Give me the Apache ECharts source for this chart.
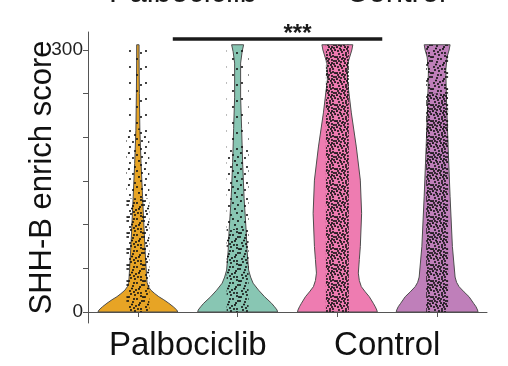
<!DOCTYPE html>
<html>
<head>
<meta charset="utf-8">
<script src="https://cdn.jsdelivr.net/npm/echarts@6/dist/echarts.min.js"></script>
<style>html,body{margin:0;padding:0;background:#fff}#c{width:508px;height:366px}</style>
</head>
<body>
<div id="c"></div>
<script>
// ---- data ----
const groupLabels = ['Palbociclib', 'Control'];
const groupLabelPos = [1.5, 3.5];
const violinPos = [1, 2, 3, 4];
const violinColors = ['#E7A425', '#88C6B3', '#EE7CB1', '#BF7FBA'];
const yTicks = [0, 50, 100, 150, 200, 250, 300];
const yLabels = [0, 300];
// violin profiles: [score, half width (category units * 100)]
const profileOrange = [[0,40],[2.3,39],[6,35.5],[10,31],[14,26],[17.5,21],[21,17],[25,13],[29,10.5],[34,9.2],[40,8.8],[75,7],[132,4.7],[170,3.2],[208,2],[250,1.5],[290,1.2],[306,1.2]];
const profileTeal = [[0,40],[2.3,39.5],[6,37],[10,34],[17.5,27],[25,21],[33,15.5],[40,13],[48,11],[70,9.5],[94,8.5],[130,6.5],[171,5],[210,4],[246,3],[285,3],[298,4.5],[306,6]];
const profilePink = [[0,40],[2.3,39.5],[6,38],[10,36],[17.5,32],[23,28],[29,24],[36,22],[44.5,21],[60,22],[75,23],[113,24.3],[151,23],[189,19],[228,14],[266,10],[285,10.5],[300,14.5],[306,15.5]];
const profilePurple = [[0,41],[2.3,40.5],[6,39],[10,36.5],[17.5,32],[23,27],[29,22],[34,19.5],[40,18],[75,15.3],[132,13],[189,11],[246,9.3],[277,8.7],[292,10],[300,12],[306,13]];
const profiles = [profileOrange, profileTeal, profilePink, profilePurple];
// jittered cell points: band half width and density segments [from, to, level]
const pointBandHalf = [11.5, 11, 11.5, 11];
const pointDensity = [
  [[0,130,3],[130,210,2],[210,306,1]],
  [[0,95,3],[95,190,2],[190,306,1]],
  [[0,306,4]],
  [[0,250,4],[250,306,3]]
];
// significance annotation
const sigFrom = 1.35, sigTo = 3.45, sigY = 312.6, sigText = '***', sigTextX = 2.6;

// ---- dot textures (style) ----
const dotSpots = [[2,3],[9,11],[13,5],[5,14],[11,1],[7,7],[1,9],[14,13],[4,0.5],[10,5],[15,9],[6,11],[3,6],[12,15],[8,2],[0,13],[13,8],[6,4],[9,15],[2,11],[11,9],[15,2],[4,9],[8,13],[12,12],[1,15],[14,0],[7,10],[10,7],[3,13],[5,2],[12,3]];
const levelCount = {1:3, 2:8, 3:18, 4:32};
function makeTile(n){
  const cv = document.createElement('canvas');
  cv.width = 16; cv.height = 16;
  const ctx = cv.getContext('2d');
  ctx.fillStyle = '#141414';
  for (let i = 0; i < n; i++) {
    for (const dx of [-16, 0, 16]) for (const dy of [-16, 0, 16]) {
      ctx.beginPath();
      ctx.arc(dotSpots[i][0] + dx, dotSpots[i][1] + dy, 1.05, 0, Math.PI*2);
      ctx.fill();
    }
  }
  return cv;
}
const tiles = {};
[1,2,3,4].forEach(l => tiles[l] = makeTile(levelCount[l]));

function violinRender(gi){
  return function(params, api){
    const c = violinPos[gi];
    const prof = profiles[gi];
    const left = prof.map(p => api.coord([c - p[1]/100, p[0]]));
    const right = prof.slice().reverse().map(p => api.coord([c + p[1]/100, p[0]]));
    const children = [{
      type: 'polygon',
      shape: { points: left.concat(right) },
      style: { fill: violinColors[gi], stroke: '#4d4d4d', lineWidth: 1 }
    }];
    const bw = pointBandHalf[gi]/100;
    pointDensity[gi].forEach(seg => {
      const p1 = api.coord([c - bw, seg[0]]);
      const p2 = api.coord([c + bw, seg[1]]);
      children.push({
        type: 'rect',
        shape: { x: p1[0], y: p2[1], width: p2[0]-p1[0], height: p1[1]-p2[1] },
        style: { fill: { image: tiles[seg[2]], repeat: 'repeat' } },
        silent: true
      });
    });
    return { type: 'group', children };
  };
}

const series = violinPos.map((pos, gi) => ({
  type: 'custom',
  renderItem: violinRender(gi),
  data: [[pos, 0]],
  encode: { x: 0, y: 1 },
  clip: false,
  silent: true
}));
series.push({
  type: 'custom',
  data: [[sigFrom, sigY]],
  encode: { x: 0, y: 1 },
  clip: false,
  silent: true,
  renderItem: function(params, api){
    const a = api.coord([sigFrom, sigY]);
    const b = api.coord([sigTo, sigY]);
    const t = api.coord([sigTextX, sigY]);
    return { type: 'group', children: [
      { type: 'line', shape: { x1: a[0], y1: a[1], x2: b[0], y2: b[1] }, style: { stroke: '#1a1a1a', lineWidth: 3.5 } },
      { type: 'text', x: t[0], y: t[1]-5, style: { text: sigText, fontSize: 24, fontWeight: 'bold', fill: '#1a1a1a', align: 'center', verticalAlign: 'middle', fontFamily: 'Liberation Sans' } }
    ]};
  }
});

const chart = echarts.init(document.getElementById('c'), null, { renderer: 'canvas' });
chart.setOption({
  animation: false,
  backgroundColor: '#fff',
  textStyle: { fontFamily: 'Liberation Sans' },
  grid: { left: 88, right: 21, top: 32, bottom: 43 },
  graphic: [
    { type: 'text', x: 183, y: -6.5, style: { text: groupLabels[0], fontSize: 31, fill: '#1a1a1a', align: 'center', verticalAlign: 'middle', fontFamily: 'Liberation Sans' } },
    { type: 'text', x: 396, y: -6.5, style: { text: groupLabels[1], fontSize: 31, fill: '#1a1a1a', align: 'center', verticalAlign: 'middle', fontFamily: 'Liberation Sans' } }
  ],
  xAxis: {
    type: 'value', min: 0.5, max: 4.5,
    splitLine: { show: false },
    axisLine: { show: true, lineStyle: { color: '#555', width: 1 } },
    axisTick: { show: true, customValues: violinPos, length: 5, lineStyle: { color: '#555' } },
    axisLabel: {
      customValues: groupLabelPos,
      formatter: v => groupLabels[groupLabelPos.indexOf(v)],
      fontSize: 33, color: '#111', margin: 6, fontFamily: 'Liberation Sans'
    }
  },
  yAxis: {
    type: 'value', min: -12.6, max: 320.6,
    name: 'SHH-B enrich score', nameLocation: 'middle', nameGap: 30,
    nameMoveOverlap: false,
    nameTextStyle: { fontSize: 31, color: '#111', fontFamily: 'Liberation Sans' },
    splitLine: { show: false },
    axisLine: { show: true, lineStyle: { color: '#555', width: 1 } },
    axisTick: { show: true, customValues: yTicks, length: 5, lineStyle: { color: '#555' } },
    axisLabel: { customValues: yLabels, fontSize: 19, color: '#222', margin: 5, fontFamily: 'Liberation Sans' }
  },
  series
});
</script>
</body>
</html>
